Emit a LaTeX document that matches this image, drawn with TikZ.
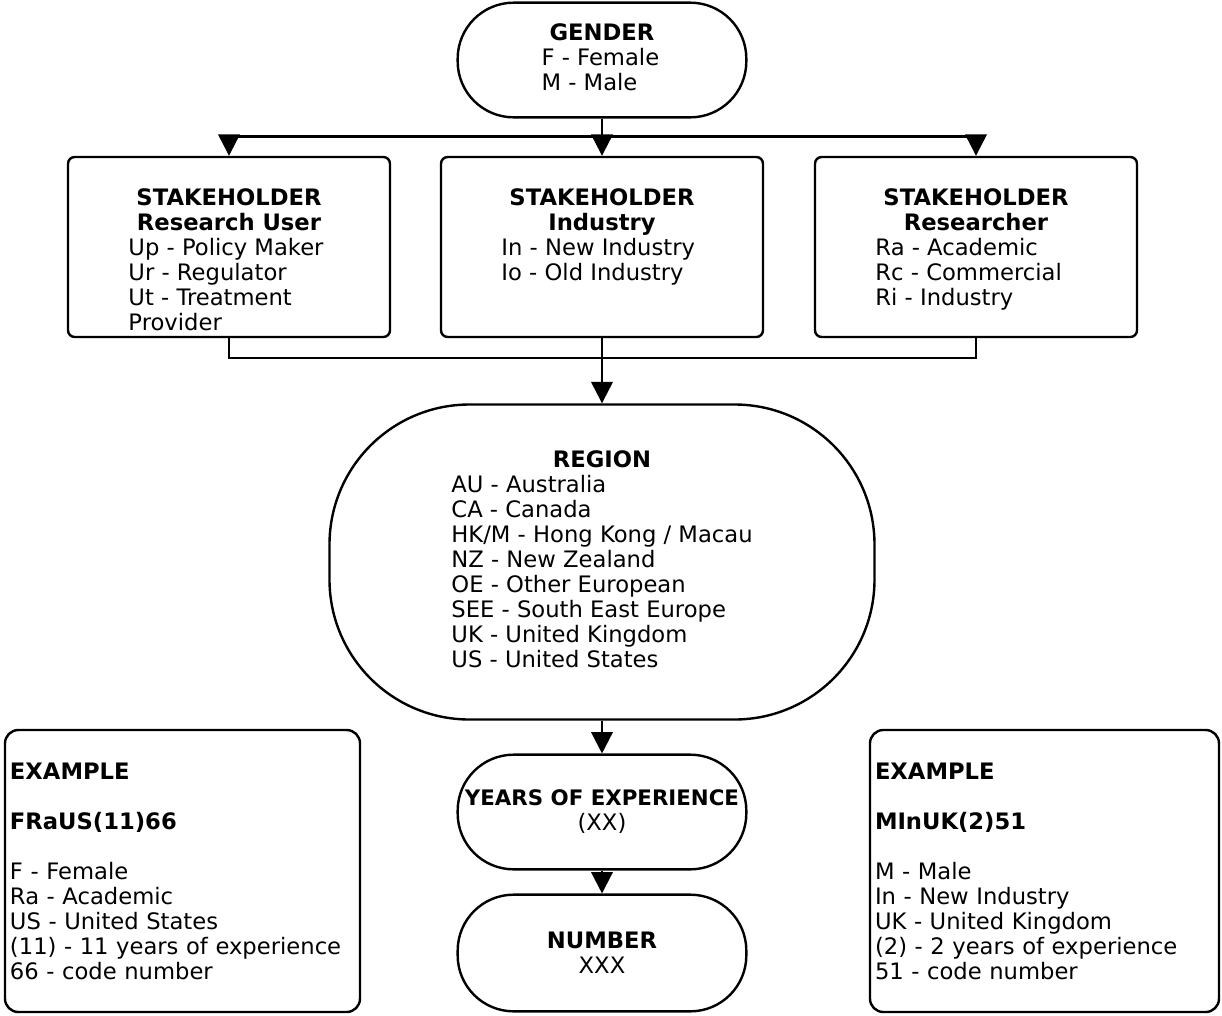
\documentclass[tikz,border=0pt]{standalone}
\usepackage{fontspec}
\setmainfont{DejaVu Sans}
\usetikzlibrary{arrows.meta}

\newcommand\hd[1]{\multicolumn{1}{c}{\bfseries #1}}

\begin{document}
\begin{tikzpicture}[x=0.75pt, y=-0.75pt, line width=1.8pt,
  font=\fontsize{17}{18.75}\selectfont,
  terminal/.style={draw, rounded corners=42pt, minimum width=216.5pt,
    minimum height=86pt, inner sep=0pt},
  stakebox/.style={draw, rounded corners=5pt, minimum width=241.5pt,
    inner sep=0pt, text height=36pt, text depth=99pt},
  note/.style={draw, rounded corners=10pt, align=left, inner xsep=3.75pt,
    minimum height=211.5pt},
  flow/.style={-{Triangle[length=16pt, width=16pt]}}]
  \useasboundingbox (0,0) rectangle (1222,1015);

  % code parts, top to bottom
  \node[terminal] (gender) at (602,60)
    {\begin{tabular}{@{}l@{}}\hd{GENDER}\\F - Female\\M - Male\end{tabular}};

  \node[stakebox] (user) at (229,247)
    {\begin{tabular}[t]{@{}l@{}}\hd{STAKEHOLDER}\\\hd{Research User}\\
      Up - Policy Maker\\Ur - Regulator\\Ut - Treatment\\Provider\end{tabular}};
  \node[stakebox] (industry) at (602,247)
    {\begin{tabular}[t]{@{}l@{}}\hd{STAKEHOLDER}\\\hd{Industry}\\
      In - New Industry\\Io - Old Industry\end{tabular}};
  \node[stakebox] (researcher) at (976,247)
    {\begin{tabular}[t]{@{}l@{}}\hd{STAKEHOLDER}\\\hd{Researcher}\\
      Ra - Academic\\Rc - Commercial\\Ri - Industry\end{tabular}};

  \node[terminal, rounded corners=105pt, minimum width=408.75pt,
    minimum height=236.25pt] (region) at (602,562)
    {\begin{tabular}{@{}l@{}}\hd{REGION}\\AU - Australia\\CA - Canada\\
      HK/M - Hong Kong / Macau\\NZ - New Zealand\\OE - Other European\\
      SEE - South East Europe\\UK - United Kingdom\\US - United States\end{tabular}};

  \node[terminal, align=center] (years) at (602,812)
    {{\fontsize{16}{18.75}\selectfont\bfseries YEARS OF EXPERIENCE}\\(XX)};
  \node[terminal, align=center, minimum height=87.5pt] (number) at (602,953)
    {\textbf{NUMBER}\\XXX};

  % worked examples
  \node[note, minimum width=266.25pt, text width=258.75pt] (exfemale) at (182.5,871)
    {\textbf{EXAMPLE}\\[18.75pt]\textbf{FRaUS(11)66}\\[18.75pt]
     F - Female\\Ra - Academic\\US - United States\\
     (11) - 11 years of experience\\66 - code number};
  \node[note, minimum width=261.75pt, text width=254.25pt] (exmale) at (1044.5,871)
    {\textbf{EXAMPLE}\\[18.75pt]\textbf{MInUK(2)51}\\[18.75pt]
     M - Male\\In - New Industry\\UK - United Kingdom\\
     (2) - 2 years of experience\\51 - code number};

  % connectors
  \draw[flow] (gender) -- (industry);
  \draw[flow] (gender.south) -- ++(0,18) -| (user.north);
  \draw[flow] (gender.south) -- ++(0,18) -| (researcher.north);
  \coordinate (merge) at (602,358);
  \draw (user.south) |- (merge);
  \draw (researcher.south) |- (merge);
  \draw[flow] (industry) -- (region);
  \draw[flow] (region) -- (years);
  \draw[flow] (years) -- (number);
\end{tikzpicture}
\end{document}
